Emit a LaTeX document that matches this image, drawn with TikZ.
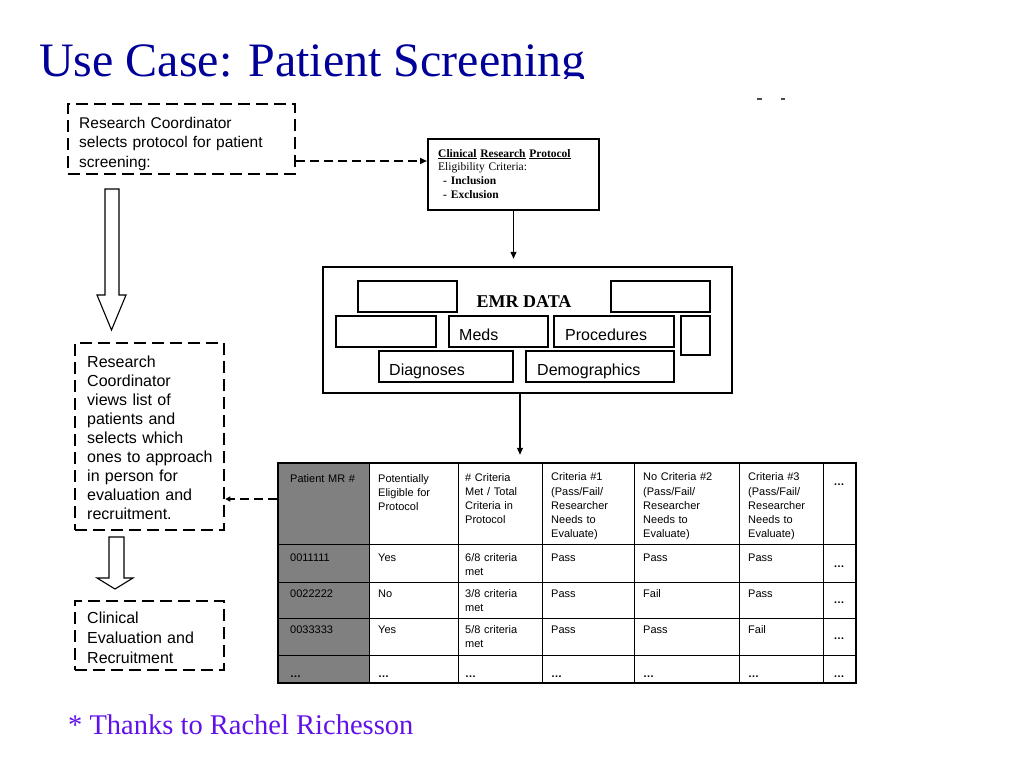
\documentclass[tikz,border=0pt]{standalone}
\usepackage{fontspec}
\setmainfont{Liberation Serif}
\setsansfont{Liberation Sans}
\usetikzlibrary{arrows.meta}
\definecolor{titleblue}{RGB}{0,0,153}
\definecolor{thankscol}{RGB}{96,16,232}
\definecolor{mrgray}{RGB}{128,128,128}
\tikzset{
  dbox/.style={draw, line width=2.5pt, dash pattern=on 12pt off 6pt, inner sep=0pt},
  sbox/.style={draw, line width=2pt, inner sep=0pt},
  lbl/.style={font=\sffamily\fontsize{16}{19.5}\selectfont, anchor=base west, inner sep=0pt, align=left},
  cell/.style={font=\sffamily\fontsize{11}{14}\selectfont, anchor=base west, inner sep=0pt, align=left, text width=85pt},
  dots/.style={font=\sffamily\bfseries\fontsize{11}{14}\selectfont, anchor=base west, inner sep=0pt},
  arr/.style={line width=1.2pt, -{Triangle[length=7pt,width=6pt]}},
  dasharr/.style={line width=1.8pt, dash pattern=on 9pt off 5pt, -{Triangle[length=7pt,width=6pt]}},
  hollow/.style={draw, line width=1.1pt, fill=white},
}
\begin{document}
\begin{tikzpicture}[x=1pt,y=-1pt]
\useasboundingbox (0,0) rectangle (1024,768);

% title (clipped at its baseline, as in the reference)
\begin{scope}
\clip (0,0) rectangle (1024,78);
\node[anchor=base west, inner sep=0pt, text=titleblue, font=\fontsize{48}{48}\selectfont] (title) at (39,77) {Use Case: Patient Screening};
\end{scope}
\draw[black!70, line width=1.5pt] (757,99) -- (762,99) (781,99) -- (785,99);

% left column boxes
\node[dbox, minimum width=227pt, minimum height=70pt] (b1) at (181.5,139) {};
\node[lbl, text width=215pt, font=\sffamily\fontsize{15.5}{19.5}\selectfont] (t1) at (79,128) {Research Coordinator\\selects protocol for patient\\screening:};

\node[dbox, minimum width=149pt, minimum height=187pt] (b2) at (149.5,436.5) {};
\node[lbl, text width=140pt, font=\sffamily\fontsize{16}{19}\selectfont] (t2) at (87,367) {Research\\Coordinator\\views list of\\patients and\\selects which\\ones to approach\\in person for\\evaluation and\\recruitment.};

\node[dbox, minimum width=149pt, minimum height=69pt] (b3) at (149.5,635.5) {};
\node[lbl, text width=140pt, font=\sffamily\fontsize{16}{20}\selectfont] (t3) at (87,623) {Clinical\\Evaluation and\\Recruitment};

% hollow block arrows
\draw[hollow] (105,189) -- (119,189) -- (119,295) -- (126,295) -- (111.5,330) -- (97,295) -- (105,295) -- cycle;
\draw[hollow] (109,537) -- (124,537) -- (124,578) -- (133,578) -- (115,589) -- (97,578) -- (109,578) -- cycle;

% protocol box
\node[sbox, minimum width=171pt, minimum height=71pt] (proto) at (513.5,174.5) {};
\node[anchor=base west, inner sep=0pt, align=left, text width=160pt, font=\fontsize{11.5}{13.7}\selectfont] (pt) at (438,157)
 {\textbf{\underline{Clinical} \underline{Research} \underline{Protocol}}\\Eligibility Criteria:\\\hspace*{5pt}\textbf{- Inclusion}\\\hspace*{5pt}\textbf{- Exclusion}};

% EMR data
\node[draw, line width=2.5pt, inner sep=0pt, minimum width=409pt, minimum height=126pt] (emr) at (527.5,330) {};
\node[sbox, minimum width=99pt, minimum height=31pt] (e1) at (407.5,296.5) {};
\node[sbox, minimum width=99pt, minimum height=31pt] (e2) at (660.5,296.5) {};
\node[sbox, minimum width=100pt, minimum height=31pt] (e3) at (386,331.5) {};
\node[sbox, minimum width=99pt, minimum height=31pt] (meds) at (498.5,331.5) {};
\node[sbox, minimum width=120pt, minimum height=31pt] (proc) at (614,331.5) {};
\node[sbox, minimum width=29pt, minimum height=39pt] (e4) at (695.5,335.5) {};
\node[sbox, minimum width=134pt, minimum height=31pt] (diag) at (446,366.5) {};
\node[sbox, minimum width=148pt, minimum height=31pt] (demo) at (600,366.5) {};
\node[anchor=base, inner sep=0pt, font=\bfseries\fontsize{18}{18}\selectfont] (emrt) at (524,307) {EMR DATA};
\node[lbl] (medst) at (459,340) {Meds};
\node[lbl] (proct) at (565,340) {Procedures};
\node[lbl] (diagt) at (389,375) {Diagnoses};
\node[lbl] (demot) at (537,375) {Demographics};

% table
\fill[mrgray] (278,463) rectangle (369,683);
\draw[line width=0.9pt]
  (369,463) -- (369,683) (458,463) -- (458,683) (542,463) -- (542,683)
  (634,463) -- (634,683) (739,463) -- (739,683) (823,463) -- (823,683)
  (278,544) -- (856,544) (278,582) -- (856,582) (278,618) -- (856,618) (278,655) -- (856,655);
\node[draw, line width=2.5pt, inner sep=0pt, minimum width=578pt, minimum height=220pt] (tbl) at (567,573) {};

\node[cell] (h1) at (290,482) {Patient MR \#};
\node[cell] (h2) at (378,482) {Potentially\\Eligible for\\Protocol};
\node[cell] (h3) at (465,481) {\# Criteria\\Met / Total\\Criteria in\\Protocol};
\node[cell] (h4) at (551,480) {Criteria \#1\\[1.5pt](Pass/Fail/\\Researcher\\Needs to\\Evaluate)};
\node[cell] (h5) at (643,480) {No Criteria \#2\\[1.5pt](Pass/Fail/\\Researcher\\Needs to\\Evaluate)};
\node[cell] (h6) at (748,480) {Criteria \#3\\[1.5pt](Pass/Fail/\\Researcher\\Needs to\\Evaluate)};
\node[dots, anchor=base] (h7) at (839,485) {\ldots};

\node[cell] (r11) at (290,561) {0011111};
\node[cell] (r12) at (378,561) {Yes};
\node[cell] (r13) at (465,561) {6/8 criteria\\met};
\node[cell] (r14) at (551,561) {Pass};
\node[cell] (r15) at (643,561) {Pass};
\node[cell] (r16) at (748,561) {Pass};
\node[dots, anchor=base] (r17) at (839,567) {\ldots};

\node[cell] (r21) at (290,597) {0022222};
\node[cell] (r22) at (378,597) {No};
\node[cell] (r23) at (465,597) {3/8 criteria\\met};
\node[cell] (r24) at (551,597) {Pass};
\node[cell] (r25) at (643,597) {Fail};
\node[cell] (r26) at (748,597) {Pass};
\node[dots, anchor=base] (r27) at (839,603) {\ldots};

\node[cell] (r31) at (290,633) {0033333};
\node[cell] (r32) at (378,633) {Yes};
\node[cell] (r33) at (465,633) {5/8 criteria\\met};
\node[cell] (r34) at (551,633) {Pass};
\node[cell] (r35) at (643,633) {Pass};
\node[cell] (r36) at (748,633) {Fail};
\node[dots, anchor=base] (r37) at (839,639) {\ldots};

\node[dots] (r41) at (290,677) {\ldots};
\node[dots] (r42) at (378,677) {\ldots};
\node[dots] (r43) at (465,677) {\ldots};
\node[dots] (r44) at (551,677) {\ldots};
\node[dots] (r45) at (643,677) {\ldots};
\node[dots] (r46) at (748,677) {\ldots};
\node[dots, anchor=base] (r47) at (839,677) {\ldots};

% connectors
\draw[dasharr] ([yshift=-22pt]b1.east) -- ([yshift=-22pt]b1.east -| proto.west);
\draw[arr, shorten >=7pt] (proto.south) -- (proto.south |- emr.north);
\draw[arr, shorten >=7pt] ([xshift=-7.5pt]emr.south) -- ([xshift=-7.5pt]emr.south |- tbl.north);
\coordinate (a2) at (0,499);
\draw[line width=1.8pt, dash pattern=on 9pt off 5pt, -{Triangle[length=5pt,width=5pt]}] (tbl.west |- a2) -- (b2.east |- a2);

% footer
\node[anchor=base west, inner sep=0pt, text=thankscol, font=\fontsize{28.5}{28.5}\selectfont] (thanks) at (68,734) {* Thanks to Rachel Richesson};
\end{tikzpicture}
\end{document}
